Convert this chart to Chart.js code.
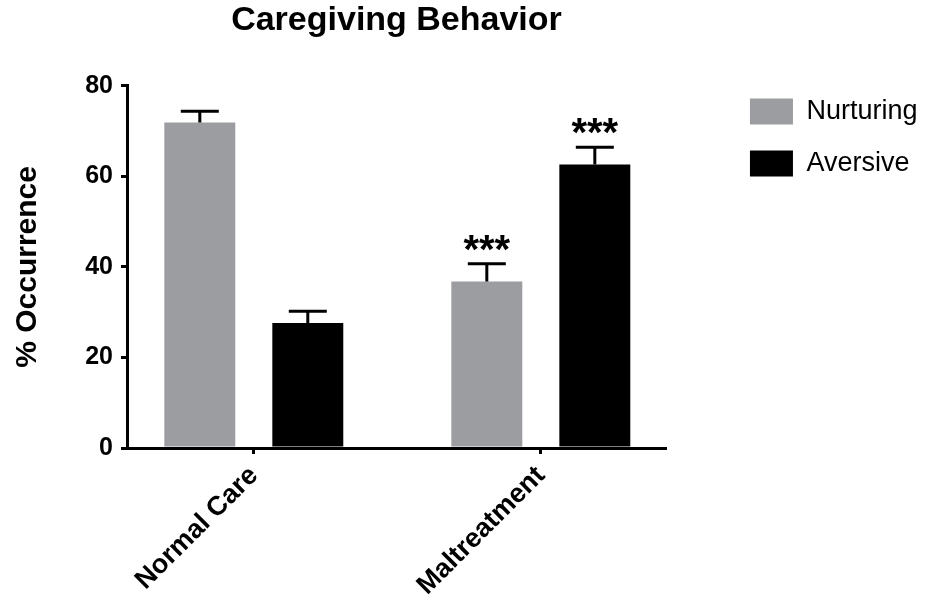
<!DOCTYPE html>
<html>
<head>
<meta charset="utf-8">
<title>Caregiving Behavior</title>
<script src="https://cdn.jsdelivr.net/npm/chart.js@4/dist/chart.umd.min.js"></script>
<style>
  html, body { margin: 0; padding: 0; background: #fff; }
  #wrap { width: 932px; height: 596px; position: relative; }
</style>
</head>
<body>
<div id="wrap"><canvas id="chart"></canvas></div>
<script>
/* --- data --- */
const categories = ["Normal Care", "Maltreatment"];
const nurturing = [71.9, 36.8];
const nurturingErr = [2.5, 3.9];
const aversive = [27.6, 62.6];
const aversiveErr = [2.6, 3.8];
const nurturingSig = ["", "***"];
const aversiveSig = ["", "***"];
const yTicks = [0, 20, 40, 60, 80];

const FONT = "'Liberation Sans', Arial, Helvetica, sans-serif";

/* --- error bars (up only) + significance stars --- */
const errorBars = {
    id: "errorBars",
    afterDatasetsDraw(chart) {
        const ctx = chart.ctx;
        const yScale = chart.scales.y;
        chart.data.datasets.forEach((ds, d) => {
            const meta = chart.getDatasetMeta(d);
            meta.data.forEach((bar, i) => {
                const v = ds.data[i].y;
                const base = yScale.getPixelForValue(v);
                const top = yScale.getPixelForValue(v + ds.err[i]);
                ctx.save();
                ctx.strokeStyle = "#000";
                ctx.lineWidth = 3;
                ctx.beginPath();
                ctx.moveTo(bar.x, base);
                ctx.lineTo(bar.x, top);
                ctx.moveTo(bar.x - 19, top);
                ctx.lineTo(bar.x + 19, top);
                ctx.stroke();
                if (ds.sig[i]) {
                    ctx.fillStyle = "#000";
                    ctx.font = "bold 40px " + FONT;
                    ctx.textAlign = "center";
                    ctx.textBaseline = "alphabetic";
                    ctx.fillText(ds.sig[i], bar.x, top - 1);
                }
                ctx.restore();
            });
        });
    }
};

const toPoints = arr => arr.map((v, i) => ({ x: i, y: v }));

new Chart(document.getElementById("chart"), {
    type: "bar",
    data: {
        datasets: [
            {
                label: "Nurturing",
                data: toPoints(nurturing),
                err: nurturingErr,
                sig: nurturingSig,
                backgroundColor: "#9c9da1",
                borderWidth: 0
            },
            {
                label: "Aversive",
                data: toPoints(aversive),
                err: aversiveErr,
                sig: aversiveSig,
                backgroundColor: "#000000",
                borderWidth: 0
            }
        ]
    },
    options: {
        responsive: true,
        maintainAspectRatio: false,
        animation: false,
        datasets: { bar: { categoryPercentage: 0.7526, barPercentage: 0.657 } },
        layout: { padding: { right: 4.5 } },
        plugins: {
            title: {
                display: true,
                text: "Caregiving Behavior",
                fullSize: false,
                color: "#000",
                font: { family: FONT, size: 34, weight: "bold" },
                padding: { top: 0, bottom: 45 }
            },
            legend: {
                position: "right",
                align: "start",
                maxWidth: 260,
                labels: {
                    boxWidth: 43,
                    boxHeight: 26,
                    padding: 25,
                    color: "#000",
                    font: { family: FONT, size: 27 }
                },
                title: { display: true, text: " ", font: { size: 10 }, padding: { top: 61, bottom: 0 } }
            },
            tooltip: { enabled: false }
        },
        scales: {
            x: {
                type: "linear",
                offset: false,
                min: -0.4418,
                max: 1.436,
                afterBuildTicks: a => { a.ticks = categories.map((c, i) => ({ value: i })); },
                afterFit: a => { a.height = 148; },
                ticks: {
                    callback: v => categories[v],
                    minRotation: 45,
                    maxRotation: 45,
                    color: "#000",
                    padding: 6,
                    font: { family: FONT, size: 27, weight: "bold" }
                },
                grid: { offset: false, drawOnChartArea: false, color: "#000", lineWidth: 3, tickLength: 6 },
                border: { color: "#000", width: 3 }
            },
            y: {
                min: 0,
                max: 80,
                afterBuildTicks: a => { a.ticks = yTicks.map(v => ({ value: v })); },
                afterFit: a => { a.width = 127; },
                ticks: {
                    color: "#000",
                    padding: 8,
                    font: { family: FONT, size: 25, weight: "bold" }
                },
                grid: { drawOnChartArea: false, color: "#000", lineWidth: 3, tickLength: 6 },
                border: { color: "#000", width: 3 },
                title: {
                    display: true,
                    text: "% Occurrence",
                    color: "#000",
                    font: { family: FONT, size: 30, weight: "bold" },
                    padding: { top: 10, bottom: 4 }
                }
            },
            y2: {
                position: "right",
                grid: { display: false },
                ticks: { display: false },
                border: { display: false },
                afterFit: a => { a.width = 59; }
            }
        }
    },
    plugins: [errorBars]
});
</script>
</body>
</html>
